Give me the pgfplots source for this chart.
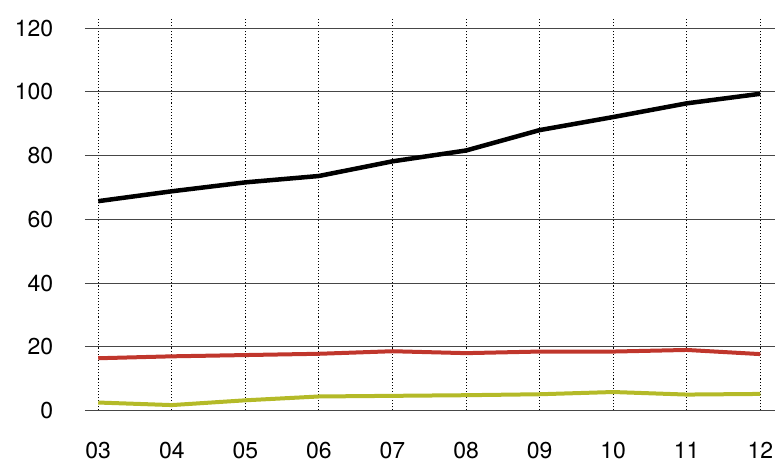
\documentclass[border=0pt]{standalone}
\usepackage{fontspec}
\setmainfont{TeX Gyre Heros}
\usepackage{pgfplots}
\pgfplotsset{compat=1.18}
\definecolor{redline}{RGB}{192,54,44}
\definecolor{greenline}{RGB}{180,186,40}
\definecolor{gridgray}{RGB}{70,70,70}
\begin{document}
\fontsize{23bp}{27bp}\selectfont
\begin{tikzpicture}
\path[use as bounding box] (-85bp,-53.5bp) rectangle (690bp,410.5bp);
\begin{axis}[
  at={(0,0)}, anchor=south west,
  scale only axis, width=690bp, height=393.5bp,
  xmin=2.82, xmax=12.2, ymin=0, ymax=123.5,
  xtick={3,...,12},
  xticklabels={03,04,05,06,07,08,09,10,11,12},
  ytick={0,20,...,120},
  axis line style={draw=none},
  major tick length=0pt,
  tick label style={font=\fontsize{23bp}{27bp}\selectfont},
  /pgf/number format/assume math mode=true,
  yticklabel style={xshift=-24bp},
  xticklabel style={yshift=-24bp},
  xmajorgrids, ymajorgrids,
  x grid style={black, line width=1.1bp, dash pattern=on 1.1bp off 2bp},
  y grid style={gridgray, line width=1.1bp},
  clip=false,
]
\addplot[black, line width=4.5bp, line join=round] coordinates {
 (3,65.7) (4,68.8) (5,71.6) (6,73.6) (7,78.2) (8,81.6) (9,88.0) (10,92.1) (11,96.4) (12,99.4)};
\addplot[redline, line width=4bp, line join=round] coordinates {
 (3,16.4) (4,17.0) (5,17.4) (6,17.8) (7,18.6) (8,18.0) (9,18.5) (10,18.5) (11,19.0) (12,17.7)};
\addplot[greenline, line width=4bp, line join=round] coordinates {
 (3,2.5) (4,1.7) (5,3.2) (6,4.4) (7,4.6) (8,4.8) (9,5.1) (10,5.8) (11,5.0) (12,5.2)};
\end{axis}
\end{tikzpicture}
\end{document}
